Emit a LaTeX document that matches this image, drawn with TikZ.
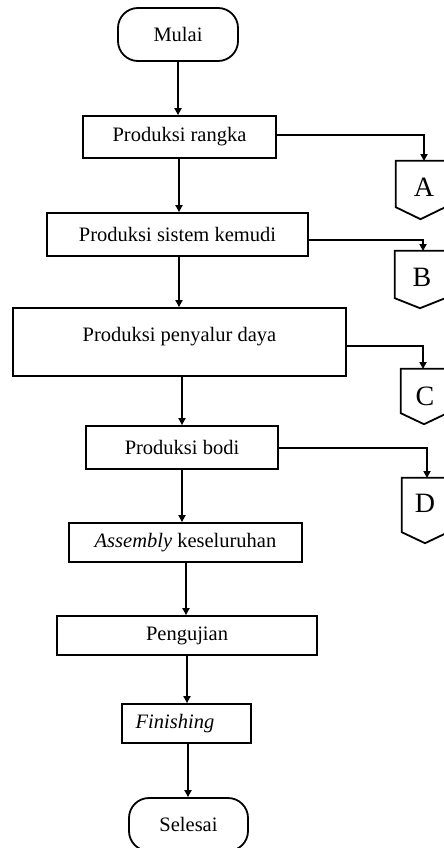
\documentclass[tikz,border=0pt]{standalone}
\usepackage{fontspec}
\setmainfont{Liberation Serif}
\usetikzlibrary{arrows.meta,calc}
\begin{document}
\begin{tikzpicture}[x=1pt,y=-1pt,
  every node/.style={font=\fontsize{20.5}{24}\selectfont, inner sep=0pt},
  procbox/.style={draw, line width=1.8pt, rectangle},
  termbox/.style={draw, line width=1.8pt, rectangle, rounded corners=20pt},
  offtext/.style={rectangle},
  letter/.style={font=\fontsize{28}{30}\selectfont},
  offshape/.style={draw, line width=1.8pt, line join=miter},
  arr/.style={line width=1.8pt, -{Triangle[length=7pt,width=7pt]}}
]
\useasboundingbox (0,0) rectangle (444,848);
% terminals
\node[termbox, minimum width=120pt, minimum height=53pt] (mulai) at (178,34.5) {Mulai};
\node[termbox, minimum width=119pt, minimum height=53pt] (selesai) at (188.5,824.5) {Selesai};
% process boxes
\node[procbox, minimum width=193pt, minimum height=42pt] (rangka) at (179.5,137) {Produksi rangka};
\node[procbox, minimum width=261pt, minimum height=43pt] (kemudi) at (177.5,234.5) {Produksi sistem kemudi};
\node[procbox, minimum width=333pt, minimum height=68pt] (penyalur) at (179.5,342) {};
\node (penyalurtext) at (179.5,337) {Produksi penyalur daya};
\node[procbox, minimum width=192pt, minimum height=43pt] (bodi) at (182,447.5) {Produksi bodi};
\node[procbox, minimum width=233pt, minimum height=39pt] (assembly) at (185.5,542.5) {\textit{Assembly} keseluruhan};
\node[procbox, minimum width=260pt, minimum height=39pt] (pengujian) at (187,635.5) {Pengujian};
\node[procbox, minimum width=129pt, minimum height=39pt] (finishing) at (186.5,723.5) {};
\node (finishingtext) at (175,723.5) {\textit{Finishing}};
% off-page connectors
\node[offtext, minimum width=49pt, minimum height=46pt] (A) at (420.5,184) {};
\node[offtext, minimum width=50pt, minimum height=47pt] (B) at (420,274.5) {};
\node[offtext, minimum width=46pt, minimum height=44pt] (C) at (424,391) {};
\node[offtext, minimum width=46pt, minimum height=54pt] (D) at (425,505) {};
\node[letter] (Atext) at (424,187) {A};
\node[letter] (Btext) at (422,277.5) {B};
\node[letter] (Ctext) at (425,396) {C};
\node[letter] (Dtext) at (425,503) {D};
\foreach \n/\d in {A/12,B/10,C/11,D/11}{
  \draw[offshape] (\n.north west) -- (\n.north east) -- (\n.south east)
    -- ($(\n.south)+(0,\d)$) -- (\n.south west) -- cycle;
}
\coordinate (Ain) at (424,161);
\coordinate (Bin) at (423,251);
\coordinate (Cin) at (423,369);
\coordinate (Din) at (427,478);
% main flow
\draw[arr] (mulai.south) -- (mulai.south |- rangka.north);
\draw[arr] ([xshift=-0.5pt]rangka.south) -- ([xshift=-0.5pt]rangka.south |- kemudi.north);
\draw[arr] ([xshift=1.5pt]kemudi.south) -- ([xshift=1.5pt]kemudi.south |- penyalur.north);
\draw[arr] ([xshift=2.5pt]penyalur.south) -- ([xshift=2.5pt]penyalur.south |- bodi.north);
\draw[arr] (bodi.south) -- (bodi.south |- assembly.north);
\draw[arr] ([xshift=0.5pt]assembly.south) -- ([xshift=0.5pt]assembly.south |- pengujian.north);
\draw[arr] (pengujian.south) -- (pengujian.south |- finishing.north);
\draw[arr] ([xshift=1.5pt]finishing.south) -- ([xshift=1.5pt]finishing.south |- selesai.north);
% side connectors
\draw[arr] ([yshift=2pt]rangka.east) -| (Ain);
\draw[arr] ([yshift=-5.5pt]kemudi.east) -| (Bin);
\draw[arr] ([yshift=-4pt]penyalur.east) -| (Cin);
\draw[arr] ([yshift=-0.5pt]bodi.east) -| (Din);
\end{tikzpicture}
\end{document}
